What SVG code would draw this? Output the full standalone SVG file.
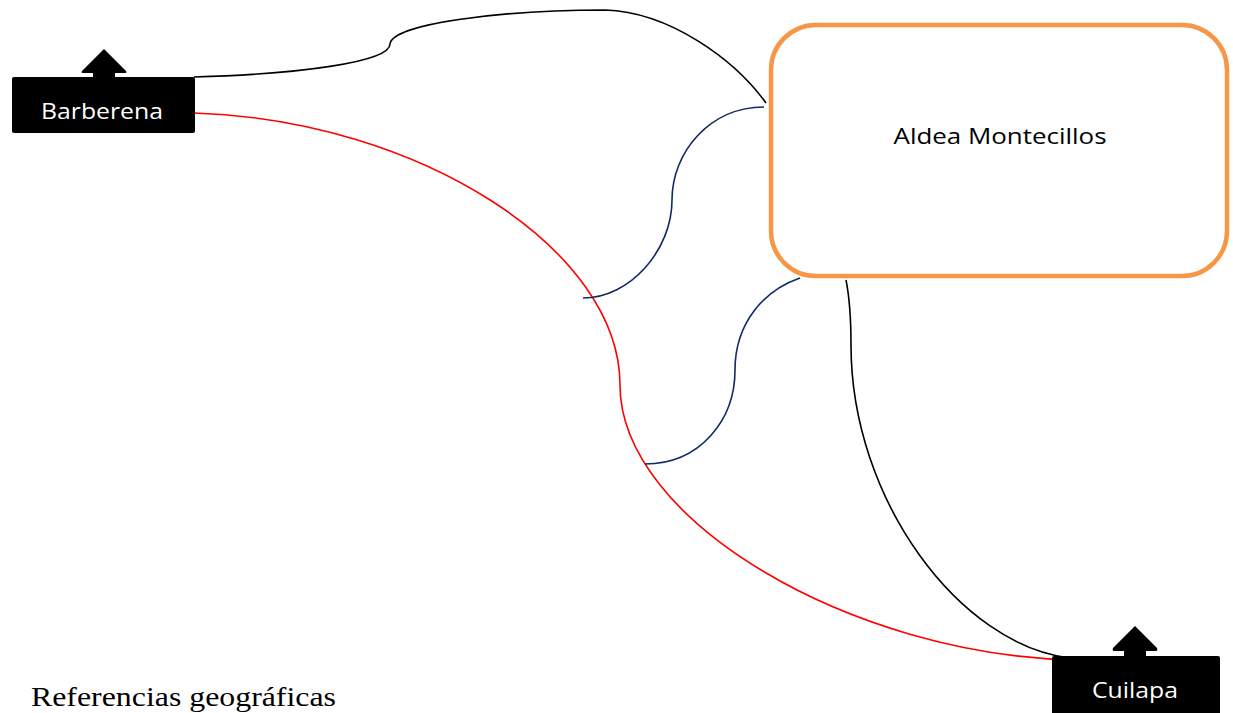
<svg xmlns="http://www.w3.org/2000/svg" width="1233" height="713" viewBox="0 0 1233 713">
<style>
.lnk{fill:none;stroke-width:1.6}
.blk{stroke:#000}
.red{stroke:#ff0000}
.blu{stroke:#0f2a66}
.box{fill:#000}
.lbl{font-family:"Open Sans","Noto Sans","Liberation Sans",sans-serif;font-size:22px;fill:#fff}
</style>
<rect width="1233" height="713" fill="#fff"/>
<g id="connectors">
<path class="lnk blk" d="M194,77 C300,74 390,62 390,44 C392,24 500,10 605,10 C670,12 735,60 766,103"/>
<path class="lnk red" d="M194,113 C420,120 620,250 620,385 C620,520 850,655 1075,660"/>
<path class="lnk blu" d="M764,107 C710,107 672,152 672,200 C672,250 630,298 583,298"/>
<path class="lnk blu" d="M800,278 C765,290 735,322 735,370 C735,420 700,464 645,464"/>
<path class="lnk blk" d="M846,280 C850,300 851,315 851,345 C851,500 960,645 1070,658"/>
</g>
<g id="montecillos">
<rect x="771" y="25" width="456" height="251" rx="45" ry="45" fill="#fff" stroke="#f79646" stroke-width="4.5"/>
<text x="1000" y="144" text-anchor="middle" font-family="'Open Sans','Noto Sans','Liberation Sans',sans-serif" font-size="22" fill="#000" textLength="213" lengthAdjust="spacingAndGlyphs">Aldea Montecillos</text>
</g>
<g id="barberena">
<path class="box" d="M104,49 L126,71 Q127,73 125,73 L115,73 L115,78 L93,78 L93,73 L83,73 Q81,73 82,71 Z"/>
<rect class="box" x="12" y="77" width="183" height="56" rx="2"/>
<text class="lbl" x="102" y="119" text-anchor="middle" textLength="122" lengthAdjust="spacingAndGlyphs">Barberena</text>
</g>
<g id="cuilapa">
<path class="box" d="M1135,626 L1157,648 Q1158,651 1156,651 L1146,651 L1146,657 L1124,657 L1124,651 L1114,651 Q1112,651 1113,648 Z"/>
<rect class="box" x="1052" y="656" width="168" height="70" rx="2"/>
<text class="lbl" x="1135" y="698" text-anchor="middle" textLength="86" lengthAdjust="spacingAndGlyphs">Cuilapa</text>
</g>
<g id="referencias">
<text x="31" y="706" font-family="'Liberation Serif','Times New Roman',serif" font-size="27" fill="#000" textLength="305" lengthAdjust="spacingAndGlyphs">Referencias geográficas</text>
</g>
</svg>
